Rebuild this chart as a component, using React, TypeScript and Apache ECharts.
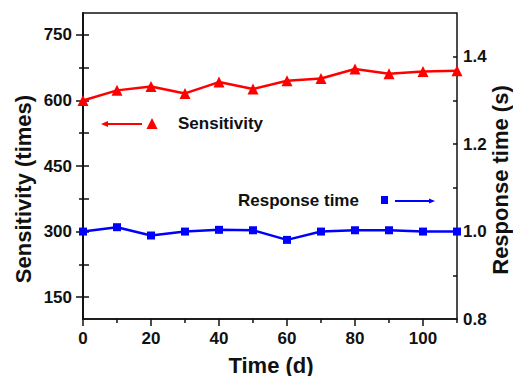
import React, { useEffect, useRef } from "react";
import * as echarts from "echarts";

const times = [0, 10, 20, 30, 40, 50, 60, 70, 80, 90, 100, 110];
const sensitivity = [600, 623, 632, 616, 642, 626, 645, 650, 672, 661, 666, 668];
const responseTime = [1.0, 1.01, 0.991, 1.0, 1.004, 1.003, 0.981, 1.0, 1.003, 1.003, 1.0, 1.0];

const xMajorTicks = [0, 20, 40, 60, 80, 100];
const xMinorTicks = [10, 30, 50, 70, 90, 110];
const leftMajorTicks = [150, 300, 450, 600, 750];
const leftMinorTicks = [225, 375, 525, 675];
const rightLabels = [0.8, 1.0, 1.2, 1.4];
const rightOuterTicks = [0.85, 0.925, 1.0, 1.075, 1.15, 1.225, 1.3, 1.375, 1.45];
const rightInnerTicks = [0.9, 1.0, 1.1, 1.2, 1.3, 1.4];

const FONT = "Liberation Sans, Arial, sans-serif";
const INK = "#111";

export default function App() {
  const ref = useRef<HTMLDivElement>(null);
  useEffect(() => {
    if (!ref.current) return;
    const chart = echarts.init(ref.current, null, { renderer: "svg" });
    const lbl = { fontFamily: FONT, fontWeight: "bold", fontSize: 17, color: INK };
    const line = { lineStyle: { color: INK, width: 1.5 } };
    chart.setOption({
      animation: false,
      backgroundColor: "#fff",
      grid: {
        left: 83,
        right: 56,
        top: 13,
        bottom: 57,
        show: true,
        borderColor: INK,
        borderWidth: 1.5,
        backgroundColor: "transparent",
      },
      xAxis: [
        {
          type: "value",
          min: 0,
          max: 110,
          interval: 10,
          position: "bottom",
          axisLine: { show: true, ...line },
          axisTick: { show: true, customValues: xMajorTicks, length: 7, ...line },
          axisLabel: { ...lbl, customValues: xMajorTicks, margin: 11 },
          splitLine: { show: false },
        },
        {
          type: "value",
          min: 0,
          max: 110,
          position: "bottom",
          axisLine: { show: false },
          axisTick: { show: true, customValues: xMinorTicks, length: 4, ...line },
          axisLabel: { show: false },
          splitLine: { show: false },
        },
      ],
      yAxis: [
        {
          type: "value",
          min: 100,
          max: 800,
          position: "left",
          axisLine: { show: true, ...line },
          axisTick: { show: true, customValues: leftMajorTicks, length: 7, ...line },
          axisLabel: { ...lbl, customValues: leftMajorTicks, margin: 11 },
          splitLine: { show: false },
        },
        {
          type: "value",
          min: 0.8,
          max: 1.5,
          position: "right",
          axisLine: { show: true, ...line },
          axisTick: { show: true, customValues: rightOuterTicks, length: 6, ...line },
          axisLabel: {
            ...lbl,
            customValues: rightLabels,
            margin: 6,
            formatter: (v: number) => v.toFixed(1),
          },
          splitLine: { show: false },
        },
        {
          type: "value",
          min: 100,
          max: 800,
          position: "left",
          axisLine: { show: false },
          axisTick: { show: true, customValues: leftMinorTicks, length: 4, ...line },
          axisLabel: { show: false },
          splitLine: { show: false },
        },
        {
          type: "value",
          min: 0.8,
          max: 1.5,
          position: "right",
          axisLine: { show: false },
          axisTick: { show: true, inside: true, customValues: rightInnerTicks, length: 4, ...line },
          axisLabel: { show: false },
          splitLine: { show: false },
        },
      ],
      series: [
        {
          type: "line",
          xAxisIndex: 0,
          yAxisIndex: 0,
          data: times.map((t, i) => [t, sensitivity[i]]),
          symbol: "triangle",
          symbolSize: 11,
          clip: false,
          lineStyle: { color: "#ff0000", width: 2.5 },
          itemStyle: { color: "#ff0000" },
        },
        {
          type: "line",
          xAxisIndex: 0,
          yAxisIndex: 1,
          data: times.map((t, i) => [t, responseTime[i]]),
          symbol: "rect",
          symbolSize: 8,
          clip: false,
          lineStyle: { color: "#0000ff", width: 2.5 },
          itemStyle: { color: "#0000ff" },
        },
      ],
      graphic: [
        {
          type: "text",
          x: 23,
          y: 189,
          rotation: Math.PI / 2,
          style: {
            text: "Sensitivity (times)",
            font: `bold 22px ${FONT}`,
            fill: INK,
            align: "center",
            verticalAlign: "middle",
          },
        },
        {
          type: "text",
          x: 500,
          y: 180,
          rotation: Math.PI / 2,
          style: {
            text: "Response time (s)",
            font: `bold 22px ${FONT}`,
            fill: INK,
            align: "center",
            verticalAlign: "middle",
          },
        },
        {
          type: "text",
          x: 271,
          y: 365,
          style: {
            text: "Time (d)",
            font: `bold 22px ${FONT}`,
            fill: INK,
            align: "center",
            verticalAlign: "middle",
          },
        },
        {
          type: "text",
          x: 178,
          y: 123,
          style: {
            text: "Sensitivity",
            font: `bold 17px ${FONT}`,
            fill: INK,
            align: "left",
            verticalAlign: "middle",
          },
        },
        {
          type: "line",
          shape: { x1: 105, y1: 124, x2: 142, y2: 124 },
          style: { stroke: "#ff0000", lineWidth: 2 },
        },
        {
          type: "polygon",
          shape: { points: [[101, 124], [108, 121], [108, 127]] },
          style: { fill: "#ff0000" },
        },
        {
          type: "polygon",
          shape: { points: [[152, 118], [146.5, 129], [157.5, 129]] },
          style: { fill: "#ff0000" },
        },
        {
          type: "text",
          x: 238,
          y: 200,
          style: {
            text: "Response time",
            font: `bold 17px ${FONT}`,
            fill: INK,
            align: "left",
            verticalAlign: "middle",
          },
        },
        {
          type: "rect",
          shape: { x: 381, y: 196, width: 7, height: 8 },
          style: { fill: "#0000ff" },
        },
        {
          type: "line",
          shape: { x1: 395, y1: 201, x2: 431, y2: 201 },
          style: { stroke: "#0000ff", lineWidth: 2 },
        },
        {
          type: "polygon",
          shape: { points: [[435, 201], [429, 198.5], [429, 203.5]] },
          style: { fill: "#0000ff" },
        },
      ],
    });
    return () => chart.dispose();
  }, []);
  return (
    <div
      ref={ref}
      style={{ position: "absolute", left: 0, top: 0, width: 513, height: 376 }}
    />
  );
}
